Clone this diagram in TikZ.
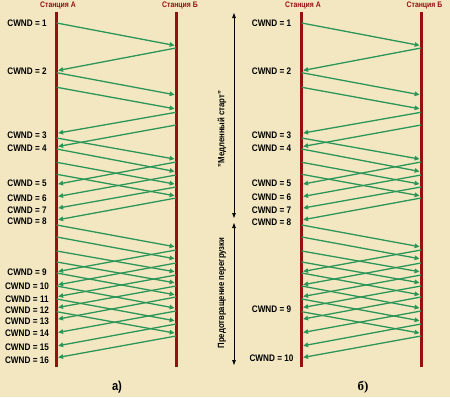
\documentclass[tikz,border=0pt]{standalone}
\usepackage{fontspec}
\setmainfont{Liberation Sans}[FakeStretch=0.86]
\newfontfamily\capserif{Liberation Serif}
\usetikzlibrary{arrows.meta}

\definecolor{bgbeige}{RGB}{242,231,193}
\definecolor{stred}{RGB}{150,16,16}
\definecolor{seggreen}{RGB}{44,150,88}

\tikzset{
  station/.style={stred, line width=3pt},
  stname/.style={text=stred, inner sep=0pt, font=\bfseries\fontsize{8}{9}\selectfont},
  cwnd/.style={inner sep=0pt, font=\bfseries\fontsize{9.5}{10}\selectfont},
  seg/.style={seggreen, line width=1.3pt, shorten >=1.4pt,
    -{Triangle[length=5pt,width=4.5pt]}},
  phase/.style={line width=0.7pt,
    {Triangle[length=5pt,width=3.5pt]}-{Triangle[length=5pt,width=3.5pt]}},
  phasename/.style={rotate=90, inner sep=0pt, font=\bfseries\fontsize{9}{10}\selectfont},
}

\begin{document}
\begin{tikzpicture}[x=1pt,y=-1pt]
    \fill[bgbeige] (0,0) rectangle (450,397);

    % station lines
    \coordinate (aA) at (56.7,12);
    \coordinate (aB) at (176,12);
    \coordinate (bA) at (301.7,12);
    \coordinate (bB) at (421,12);
    \foreach \s in {aA,aB,bA,bB}
        \draw[station] (\s) -- (\s |- 0,367);

    \node[stname] (naA) at (58,6) {Станция А};
    \node[stname] (naB) at (180,6) {Станция Б};
    \node[stname] (nbA) at (303,6) {Станция А};
    \node[stname] (nbB) at (424.5,6) {Станция Б};

    % segments and acks, same in both parts
    \foreach \p in {a,b}{
        \foreach \ys/\yr in {23/45.7, 72.7/95, 87.3/109, 138/159.3, 149/171.7,
                162.3/184.3, 174.3/196, 225/247, 237/259, 251/272, 262/283,
                273/295, 286/308.3, 299/321, 311.7/333.3}
            \draw[seg] (\p A |- 0,\ys) -- (\p B |- 0,\yr);
        \foreach \ys/\yr in {48/70.7, 112.3/133.3, 125/146.7, 162/184.3,
                175/196.7, 187/208.3, 198/220, 250/271.7, 263/285, 275/296.7,
                286/307.7, 297/319.3, 311/332.7, 324/346, 336/357.7}
            \draw[seg] (\p B |- 0,\ys) -- (\p A |- 0,\yr);
    }

    % window sizes
    \foreach \n/\y in {1/23, 2/71, 3/135, 4/148, 5/183, 6/198, 7/210, 8/221,
            9/272, 10/286, 11/299, 12/310, 13/321, 14/333, 15/347, 16/360}
        \node[cwnd] (ca\n) at (27,\y) {CWND = \n};
    \foreach \n/\y in {1/23, 2/71, 3/135, 4/148, 5/183, 6/197, 7/210, 8/222,
            9/309, 10/358}
        \node[cwnd] (cb\n) at (271.5,\y) {CWND = \n};

    % phases
    \coordinate (ss1) at (234,13);
    \coordinate (ss2) at (234,218);
    \coordinate (ca1) at (234,223);
    \coordinate (ca2) at (234,365);
    \draw[phase] (ss1) -- (ss2);
    \draw[phase] (ca1) -- (ca2);
    \node[phasename] (slow) at (222,129) {"Медленный старт"};
    \node[phasename] (avoid) at (222,293) {Предотвращение перегрузки};

    \node[font=\bfseries\fontsize{13}{14}\selectfont] (capa) at (117,387) {а)};
    \node[font=\capserif\bfseries\fontsize{13}{14}\selectfont] (capb) at (363,387) {б)};
\end{tikzpicture}
\end{document}
